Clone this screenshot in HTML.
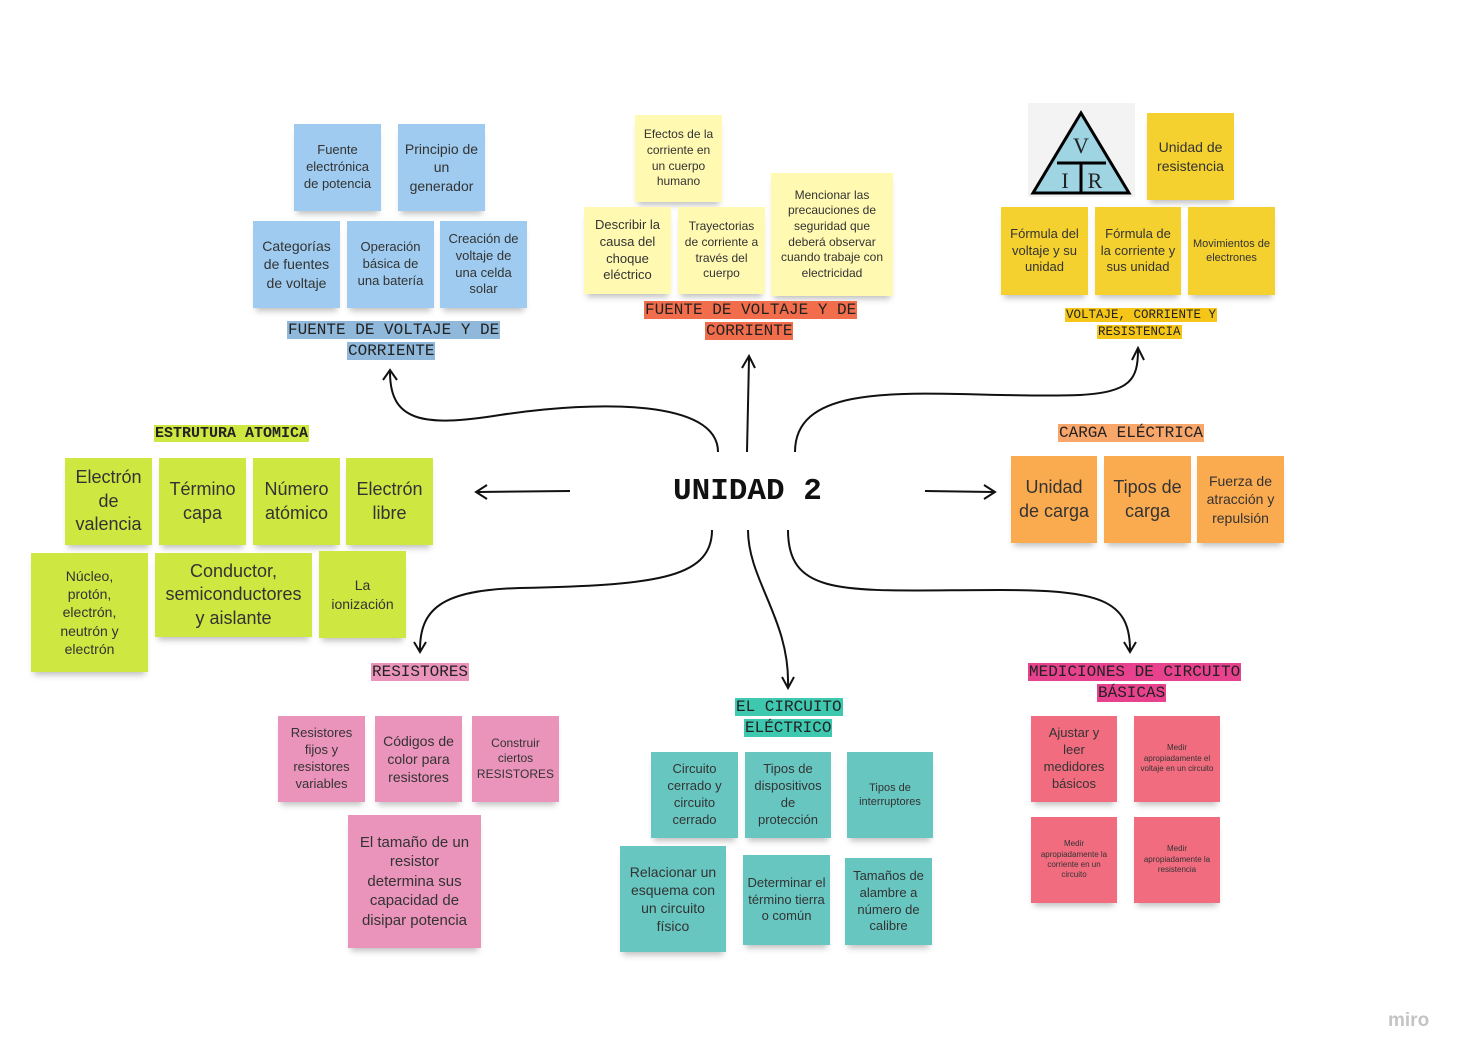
<!DOCTYPE html>
<html><head><meta charset="utf-8"><style>
body{margin:0;width:1468px;height:1063px;background:#fff;position:relative;overflow:hidden;font-family:"Liberation Sans","DejaVu Sans",sans-serif}
.s{position:absolute;display:flex;align-items:center;justify-content:center;text-align:center;color:#333;box-shadow:0 6px 6px -3px rgba(0,0,0,.25);line-height:1.3;box-sizing:border-box;padding:4px}
.b{background:#9ecbef}.ly{background:#fff9b1}.y{background:#f5d130}.o{background:#fbab4f}.g{background:#cee741}.p{background:#ea94bb}.t{background:#67c6c0}.r{background:#f16c7f}
.l{position:absolute;font-family:"Liberation Mono",monospace;font-size:16px;color:#222;line-height:20px;white-space:nowrap;text-align:center}
.l span{padding:0 1px}
</style></head><body>
<svg width="1468" height="1063" style="position:absolute;left:0;top:0" fill="none" stroke="#111" stroke-width="2">
<path d="M718,452 C718,400 600,400 500,415 C420,428 390,420 390,372"/><path d="M383,380 L390,370 L397,380"/>
<path d="M747,452 L749,358"/><path d="M742,368 L749,356 L755,368"/>
<path d="M795,452 C795,370 950,400 1080,395 C1130,392 1138,380 1138,350"/><path d="M1132,360 L1138,348 L1144,360"/>
<path d="M570,491 L478,492"/><path d="M487,485 L476,492 L487,499"/>
<path d="M925,491 L993,492"/><path d="M984,485 L995,492 L984,499"/>
<path d="M712,530 C712,580 650,585 520,588 C440,590 420,610 420,650"/><path d="M414,642 L420,652 L426,642"/>
<path d="M748,530 C748,580 790,620 788,686"/><path d="M782,677 L788,688 L794,677"/>
<path d="M788,530 C788,600 850,590 1000,590 C1100,590 1130,600 1130,650"/><path d="M1124,642 L1130,652 L1136,642"/>
</svg>

<div class="s b" style="left:294px;top:124px;width:87px;height:87px;font-size:13px">Fuente electrónica de potencia</div>
<div class="s b" style="left:398px;top:124px;width:87px;height:87px;font-size:14px">Principio de un generador</div>
<div class="s b" style="left:253px;top:221px;width:87px;height:87px;font-size:14px">Categorías de fuentes de voltaje</div>
<div class="s b" style="left:347px;top:221px;width:87px;height:87px;font-size:13px">Operación básica de una batería</div>
<div class="s b" style="left:440px;top:221px;width:87px;height:87px;font-size:13px">Creación de voltaje de una celda solar</div>
<div class="l" style="left:287px;top:320px"><span style="background:#8fb8da">FUENTE DE VOLTAJE Y DE</span></div>
<div class="l" style="left:347px;top:341px"><span style="background:#8fb8da">CORRIENTE</span></div>

<div class="s ly" style="left:635px;top:115px;width:87px;height:87px;font-size:12px">Efectos de la corriente en un cuerpo humano</div>
<div class="s ly" style="left:584px;top:207px;width:87px;height:87px;font-size:13px">Describir la causa del choque eléctrico</div>
<div class="s ly" style="left:678px;top:207px;width:87px;height:87px;font-size:12px">Trayectorias de corriente a través del cuerpo</div>
<div class="s ly" style="left:771px;top:173px;width:122px;height:123px;font-size:12px">Mencionar las precauciones de seguridad que deberá observar cuando trabaje con electricidad</div>
<div class="l" style="left:644px;top:300px"><span style="background:#f26d4b">FUENTE DE VOLTAJE Y DE</span></div>
<div class="l" style="left:705px;top:321px"><span style="background:#f26d4b">CORRIENTE</span></div>

<div style="position:absolute;left:1028px;top:103px;width:107px;height:94px;background:#f3f3f3"></div>
<svg style="position:absolute;left:1028px;top:103px" width="107" height="94">
<polygon points="53,10 101,90 5,90" fill="#9fd4e3" stroke="#000" stroke-width="3"/>
<line x1="29" y1="60" x2="78" y2="60" stroke="#000" stroke-width="3"/><line x1="53" y1="60" x2="53" y2="90" stroke="#000" stroke-width="3"/>
<text x="53" y="50" font-family="Liberation Serif,serif" font-size="22" text-anchor="middle" fill="#222">V</text>
<text x="37" y="85" font-family="Liberation Serif,serif" font-size="22" text-anchor="middle" fill="#222">I</text>
<text x="67" y="85" font-family="Liberation Serif,serif" font-size="22" text-anchor="middle" fill="#222">R</text></svg>
<div class="s y" style="left:1147px;top:113px;width:87px;height:87px;font-size:14px">Unidad de resistencia</div>
<div class="s y" style="left:1001px;top:207px;width:87px;height:88px;font-size:13px">Fórmula del voltaje y su unidad</div>
<div class="s y" style="left:1095px;top:207px;width:86px;height:88px;font-size:13px">Fórmula de la corriente y sus unidad</div>
<div class="s y" style="left:1188px;top:207px;width:87px;height:88px;font-size:11px">Movimientos de electrones</div>
<div class="l" style="left:1065px;top:307px;font-size:12.5px;line-height:17px"><span style="background:#f5c518">VOLTAJE, CORRIENTE Y</span></div>
<div class="l" style="left:1097px;top:324px;font-size:12.5px;line-height:17px"><span style="background:#f5c518">RESISTENCIA</span></div>

<div class="l" style="left:1058px;top:423px"><span style="background:#f9a66a">CARGA ELÉCTRICA</span></div>
<div class="s o" style="left:1011px;top:456px;width:86px;height:87px;font-size:18px">Unidad de carga</div>
<div class="s o" style="left:1104px;top:456px;width:87px;height:87px;font-size:18px">Tipos de carga</div>
<div class="s o" style="left:1197px;top:456px;width:87px;height:87px;font-size:14px">Fuerza de atracción y repulsión</div>

<div style="position:absolute;left:673px;top:474px;font-family:'Liberation Mono',monospace;font-weight:bold;font-size:31px;color:#111">UNIDAD 2</div>

<div class="l" style="left:154px;top:424px;font-weight:bold;font-size:15px"><span style="background:#cee741">ESTRUTURA ATOMICA</span></div>
<div class="s g" style="left:65px;top:458px;width:87px;height:87px;font-size:18px">Electrón de valencia</div>
<div class="s g" style="left:159px;top:458px;width:87px;height:87px;font-size:18px">Término capa</div>
<div class="s g" style="left:253px;top:458px;width:87px;height:87px;font-size:18px">Número atómico</div>
<div class="s g" style="left:346px;top:458px;width:87px;height:87px;font-size:18px">Electrón libre</div>
<div class="s g" style="left:31px;top:553px;width:117px;height:119px;font-size:14px;padding:4px 18px">Núcleo, protón, electrón, neutrón y electrón</div>
<div class="s g" style="left:155px;top:553px;width:157px;height:84px;font-size:18px">Conductor, semiconductores y aislante</div>
<div class="s g" style="left:319px;top:551px;width:87px;height:87px;font-size:14px">La ionización</div>

<div class="l" style="left:371px;top:662px"><span style="background:#ea94bb">RESISTORES</span></div>
<div class="s p" style="left:278px;top:716px;width:87px;height:86px;font-size:13px">Resistores fijos y resistores variables</div>
<div class="s p" style="left:375px;top:716px;width:87px;height:86px;font-size:14px">Códigos de color para resistores</div>
<div class="s p" style="left:472px;top:716px;width:87px;height:86px;font-size:12px">Construir ciertos RESISTORES</div>
<div class="s p" style="left:348px;top:815px;width:133px;height:133px;font-size:15px;padding:4px 10px">El tamaño de un resistor determina sus capacidad de disipar potencia</div>

<div class="l" style="left:735px;top:697px"><span style="background:#3fc8b0">EL CIRCUITO</span></div>
<div class="l" style="left:744px;top:718px"><span style="background:#3fc8b0">ELÉCTRICO</span></div>
<div class="s t" style="left:651px;top:752px;width:87px;height:86px;font-size:13px">Circuito cerrado y circuito cerrado</div>
<div class="s t" style="left:745px;top:752px;width:86px;height:86px;font-size:13px">Tipos de dispositivos de protección</div>
<div class="s t" style="left:847px;top:752px;width:86px;height:86px;font-size:11px">Tipos de interruptores</div>
<div class="s t" style="left:620px;top:846px;width:106px;height:106px;font-size:14px">Relacionar un esquema con un circuito físico</div>
<div class="s t" style="left:743px;top:855px;width:87px;height:90px;font-size:13px">Determinar el término tierra o común</div>
<div class="s t" style="left:845px;top:858px;width:87px;height:87px;font-size:13px">Tamaños de alambre a número de calibre</div>

<div class="l" style="left:1028px;top:662px"><span style="background:#e8418e">MEDICIONES DE CIRCUITO</span></div>
<div class="l" style="left:1097px;top:683px"><span style="background:#e8418e">BÁSICAS</span></div>
<div class="s r" style="left:1031px;top:716px;width:86px;height:86px;font-size:13px;padding:4px 12px">Ajustar y leer medidores básicos</div>
<div class="s r" style="left:1134px;top:716px;width:86px;height:86px;font-size:8px">Medir apropiadamente el voltaje en un circuito</div>
<div class="s r" style="left:1031px;top:817px;width:86px;height:86px;font-size:8px">Medir apropiadamente la corriente en un circuito</div>
<div class="s r" style="left:1134px;top:817px;width:86px;height:86px;font-size:8px">Medir apropiadamente la resistencia</div>

<div style="position:absolute;left:1388px;top:1010px;font-size:19px;font-weight:bold;color:#c4c4c4">miro</div>
</body></html>
